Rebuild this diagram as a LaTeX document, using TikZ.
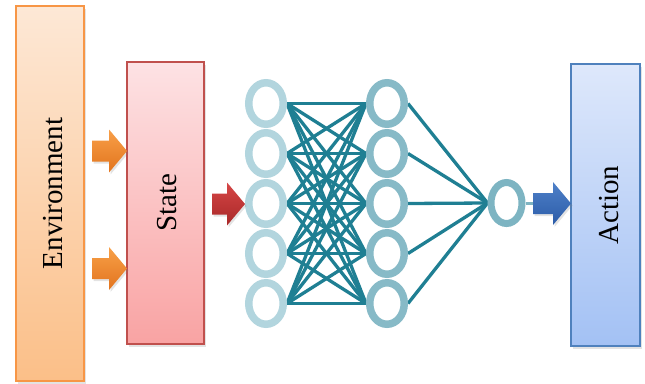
\documentclass[tikz,border=0pt]{standalone}
\usepackage{fontspec}
\setmainfont{Liberation Serif}
\usepackage{graphicx}
\usetikzlibrary{shadows,calc}

\definecolor{envtop}{HTML}{FDE8D6}
\definecolor{envbot}{HTML}{FBBF88}
\definecolor{envline}{HTML}{F79646}
\definecolor{sttop}{HTML}{FDE2E4}
\definecolor{stbot}{HTML}{F9A3A3}
\definecolor{stline}{HTML}{C0504D}
\definecolor{actop}{HTML}{DEE8FB}
\definecolor{acbot}{HTML}{A3C1F4}
\definecolor{acline}{HTML}{4F81BD}
\definecolor{ringin}{HTML}{B2D5DE}
\definecolor{ringhid}{HTML}{87BAC7}
\definecolor{ringout}{HTML}{7DB4C2}
\definecolor{wire}{HTML}{1F7F93}

\pgfdeclarelayer{wires}
\pgfsetlayers{wires,main}

% horizontal block arrow from a tail point to a tip point
\newcommand\blockarrow[3]{%
  \path[#1] let \p1=(#2), \p2=(#3) in
    (\x1,\y1+10.5pt) -- (\x2-18pt,\y1+10.5pt) -- (\x2-18pt,\y1+21.5pt)
    -- (\x2,\y1) -- (\x2-18pt,\y1-21.5pt) -- (\x2-18pt,\y1-10.5pt)
    -- (\x1,\y1-10.5pt) -- cycle;}

\begin{document}
\begin{tikzpicture}[x=1pt,y=-1pt,
  box/.style={draw, line width=1.3pt, inner sep=0pt, outer sep=0pt,
    drop shadow={opacity=0.22, shadow xshift=2pt, shadow yshift=-2.5pt},
    font=\fontsize{29}{34}\selectfont},
  unit/.style={inner sep=0pt, outer sep=0pt, minimum width=42pt, minimum height=49pt},
  ringline/.style={fill=white, line width=7.5pt},
  edge/.style={wire, line width=3.3pt},
  arrowshadow/.style={drop shadow={opacity=0.22, shadow xshift=1.5pt, shadow yshift=-2pt}},
  orangearrow/.style={top color={rgb,255:red,248;green,160;blue,72}, bottom color={rgb,255:red,226;green,116;blue,30}, arrowshadow},
  redarrow/.style={top color={rgb,255:red,214;green,70;blue,70}, bottom color={rgb,255:red,168;green,40;blue,40}, arrowshadow},
  bluearrow/.style={top color={rgb,255:red,78;green,128;blue,200}, bottom color={rgb,255:red,44;green,92;blue,168}, arrowshadow}
]
\useasboundingbox (0,0) rectangle (645,383);

% blocks
\node[box, draw=envline, top color=envtop, bottom color=envbot,
  minimum width=68pt, minimum height=375pt] (env) at (50,193.5)
  {\kern6pt\rotatebox{90}{Environment}};
\node[box, draw=stline, top color=sttop, bottom color=stbot,
  minimum width=77pt, minimum height=282pt] (state) at (165.5,203)
  {\kern3pt\rotatebox{90}{State}};
\node[box, draw=acline, top color=actop, bottom color=acbot,
  minimum width=69pt, minimum height=282pt] (action) at (605.5,205)
  {\kern8pt\rotatebox{90}{Action}};

% network units (outer size of each ring)
\foreach \k/\y in {1/103.5,2/153.5,3/203.5,4/253.5,5/303.5} {
  \node[unit] (in\k) at (266,\y) {};
  \node[unit] (hid\k) at (387,\y) {};
  \draw[ringline, draw=ringin] (in\k) ellipse [x radius=17.25, y radius=20.75];
  \draw[ringline, draw=ringhid] (hid\k) ellipse [x radius=17.25, y radius=20.75];
}
\node[unit, minimum width=38pt, minimum height=48pt] (out) at (506.5,203) {};
\draw[ringline, draw=ringout, line width=7pt] (out) ellipse [x radius=15.5, y radius=20.5];

\begin{pgfonlayer}{wires}
\foreach \i in {1,...,5}
  \foreach \j in {1,...,5}
    \draw[edge] (in\i.east) -- (hid\j.west);
\foreach \j in {1,...,5}
  \draw[edge] (hid\j.east) -- (out.west);
\end{pgfonlayer}

% block arrows
\coordinate (t1) at (92,151);
\coordinate (t2) at (92,268.5);
\coordinate (t3) at (212,204);
\coordinate (t4) at (533,203.5);
\blockarrow{orangearrow}{t1}{state.west |- t1}
\blockarrow{orangearrow}{t2}{state.west |- t2}
\blockarrow{redarrow}{t3}{in3.west |- t3}
\begin{pgfonlayer}{wires}
\draw[ringout, line width=3pt] (out.east |- t4) -- (t4);
\end{pgfonlayer}
\blockarrow{bluearrow}{t4}{action.west |- t4}
\end{tikzpicture}
\end{document}
